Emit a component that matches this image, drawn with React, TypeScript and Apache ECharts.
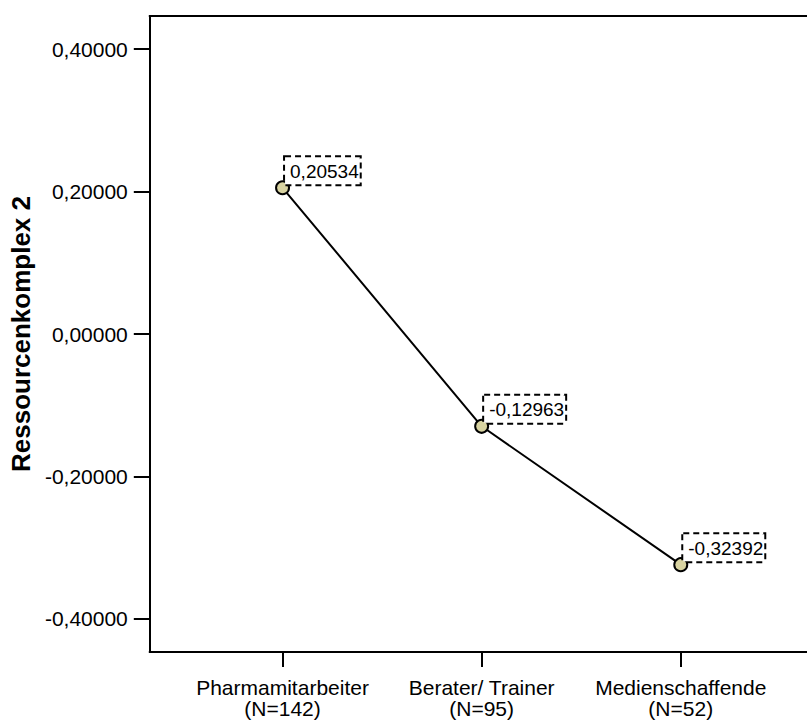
import React, { useEffect, useRef } from "react";
import * as echarts from "echarts";

// Mean of "Ressourcenkomplex 2" per occupational group
const categories = ["Pharmamitarbeiter", "Berater/ Trainer", "Medienschaffende"];
const groupSizes = [142, 95, 52];
const means = [0.20534, -0.12963, -0.32392];
const yTicks = [-0.4, -0.2, 0, 0.2, 0.4];

const FONT = "'Liberation Sans', Arial, Helvetica, sans-serif";

const fmt = (v: number, digits = 5) => v.toFixed(digits).replace(".", ",");

export default function App() {
  const ref = useRef<HTMLDivElement>(null);

  useEffect(() => {
    if (!ref.current) return;
    const chart = echarts.init(ref.current, undefined, { renderer: "svg" });

    const positions = categories.map((_, i) => i + 1);
    // the plot frame runs past the right edge, so the x range ends early
    const xMin = 1 / 3;
    const xMax = 3.634;
    const frameLine = { color: "#000", width: 2, cap: "square" as const };

    chart.setOption({
      animation: false,
      backgroundColor: "#ffffff",
      grid: {
        left: 149,
        top: 16,
        right: 0,
        height: 636,
      },
      xAxis: [
        {
          type: "value",
          min: xMin,
          max: xMax,
          position: "bottom",
          axisLine: { show: true, onZero: false, lineStyle: frameLine },
          splitLine: { show: false },
          axisTick: {
            show: true,
            customValues: positions,
            length: 15,
            lineStyle: { color: "#000", width: 2 },
          },
          axisLabel: {
            customValues: positions,
            margin: 25,
            fontFamily: FONT,
            fontSize: 21,
            lineHeight: 21,
            color: "#000",
            formatter: (v: number) => {
              const i = Math.round(v) - 1;
              return `${categories[i]}\n(N=${groupSizes[i]})`;
            },
          },
        },
        {
          type: "value",
          min: xMin,
          max: xMax,
          position: "top",
          axisLine: { show: true, onZero: false, lineStyle: frameLine },
          splitLine: { show: false },
          axisTick: { show: false },
          axisLabel: { show: false },
        },
      ],
      yAxis: {
        type: "value",
        min: -0.4466,
        max: 0.4466,
        name: "Ressourcenkomplex 2",
        nameLocation: "middle",
        nameGap: 107,
        nameTextStyle: {
          fontFamily: FONT,
          fontSize: 26,
          fontWeight: "bold",
          color: "#000",
        },
        axisLine: { show: true, onZero: false, lineStyle: frameLine },
        splitLine: { show: false },
        axisTick: {
          show: true,
          customValues: yTicks,
          length: 16,
          lineStyle: { color: "#000", width: 2 },
        },
        axisLabel: {
          customValues: yTicks,
          margin: 22,
          fontFamily: FONT,
          fontSize: 21,
          color: "#000",
          formatter: (v: number) => fmt(v),
        },
      },
      series: [
        {
          type: "line",
          xAxisIndex: 0,
          data: means.map((m, i) => [positions[i], m]),
          symbol: "circle",
          symbolSize: 13,
          lineStyle: { color: "#000", width: 2 },
          itemStyle: { color: "#d8d3a1", borderColor: "#000", borderWidth: 2 },
          z: 3,
          label: {
            show: true,
            position: [10, 4],
            align: "left",
            verticalAlign: "bottom",
            formatter: (p: any) => fmt(p.value[1]),
            fontFamily: FONT,
            fontSize: 19,
            lineHeight: 20,
            color: "#000",
            backgroundColor: "#fff",
            borderColor: "#000",
            borderWidth: 2,
            borderType: [6, 4],
            padding: [4, 1, 3, 5],
          },
        },
      ],
    });

    return () => chart.dispose();
  }, []);

  return (
    <div
      ref={ref}
      style={{ position: "fixed", left: 0, top: 0, width: 807, height: 720 }}
    />
  );
}
